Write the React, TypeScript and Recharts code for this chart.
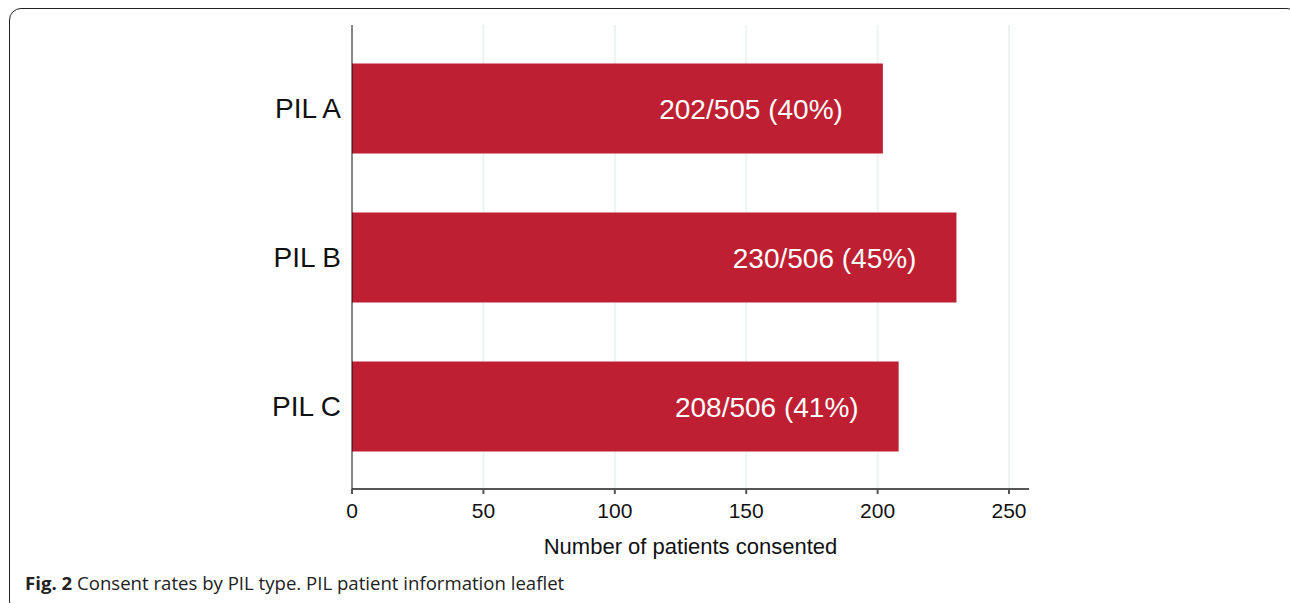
import React from 'react';
import { BarChart, Bar, XAxis, YAxis, CartesianGrid, LabelList } from 'recharts';

const categories = ['PIL A', 'PIL B', 'PIL C'];
const consented = [202, 230, 208];
const invited = [505, 506, 506];
const percents = [40, 45, 41];
const xTicks = [0, 50, 100, 150, 200, 250];

const data = categories.map((name, i) => ({
  name,
  value: consented[i],
  label: `${consented[i]}/${invited[i]} (${percents[i]}%)`,
}));

const FONT = '"Liberation Sans", Arial, sans-serif';
const RED = '#be1f32';

function BarLabel(props: any) {
  const { x, y, width, height, value } = props;
  return (
    <text
      x={x + width - 40}
      y={y + height / 2}
      dy={10}
      textAnchor="end"
      fill="#ffffff"
      fontSize={28}
      fontFamily={FONT}
    >
      {value}
    </text>
  );
}

export default function App() {
  return (
    <div style={{ position: 'absolute', left: 0, top: 0, width: 1290, height: 603, background: '#fff', overflow: 'hidden' }}>
      <div
        style={{
          position: 'absolute', left: 9, top: 8, width: 1290, height: 605,
          border: '1.5px solid #222', borderRadius: 12, boxSizing: 'border-box',
        }}
      />
      <div style={{ position: 'absolute', left: 0, top: 0 }}>
        <BarChart
          width={1290}
          height={603}
          data={data}
          layout="vertical"
          margin={{ top: 25, right: 261, bottom: 44, left: 252 }}
        >
          <CartesianGrid horizontal={false} stroke="#edf2f3" strokeWidth={2} verticalValues={[50, 100, 150, 200, 250]} />
          <XAxis
            type="number"
            domain={[0, 257.6]}
            ticks={xTicks}
            allowDataOverflow
            height={70}
            stroke="#555"
            strokeWidth={2}
            tickSize={5}
            tickMargin={9}
            tick={{ fontSize: 21, fill: '#111', fontFamily: FONT }}
            label={{ value: 'Number of patients consented', position: 'insideBottom', offset: 5, fontSize: 22, fill: '#111', fontFamily: FONT }}
          />
          <YAxis
            type="category"
            dataKey="name"
            width={100}
            padding={{ top: 8.5, bottom: 8.5 }}
            stroke="#111"
            tickLine={false}
            tickMargin={5}
            tick={{ fontSize: 28, fill: '#111', fontFamily: FONT }}
          />
          <Bar dataKey="value" fill={RED} barSize={90} isAnimationActive={false}>
            <LabelList dataKey="label" content={<BarLabel />} />
          </Bar>
        </BarChart>
      </div>
      <div
        style={{
          position: 'absolute', left: 25, top: 570, fontFamily: '"Open Sans", sans-serif',
          fontSize: 18.6, color: '#222', whiteSpace: 'nowrap',
        }}
      >
        <b>Fig. 2</b> Consent rates by PIL type. PIL patient information leaflet
      </div>
    </div>
  );
}
